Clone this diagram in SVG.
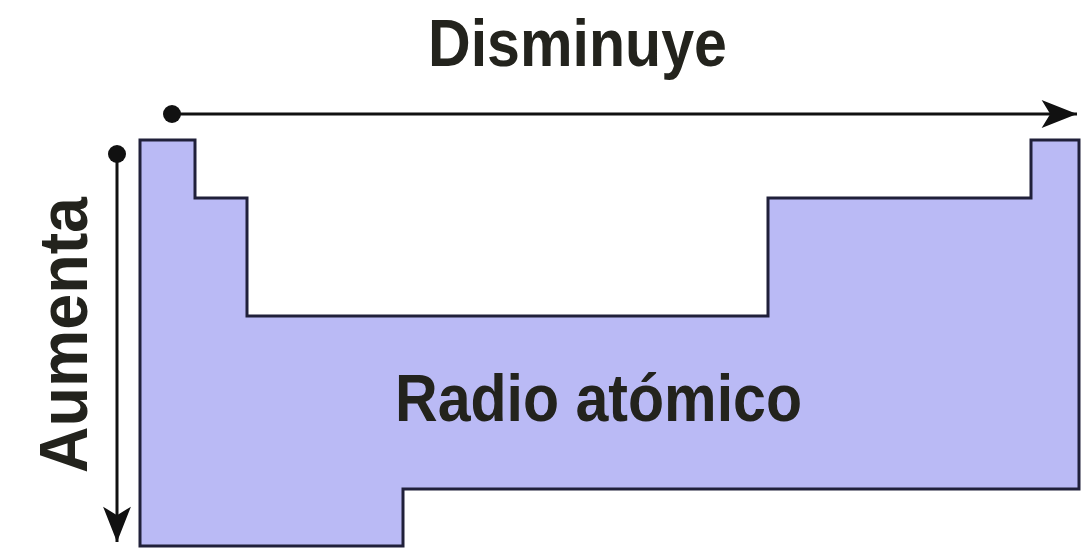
<svg xmlns="http://www.w3.org/2000/svg" width="1083" height="548" viewBox="0 0 1083 548">
<style>
.lbl{font-family:"Liberation Sans",Arial,sans-serif;font-weight:bold;fill:#23231d;}
.conn{stroke:#111;stroke-width:3;fill:none;}
</style>
<defs>
<marker id="arrow" markerUnits="userSpaceOnUse" markerWidth="40" markerHeight="30" viewBox="-33 -14 35 28" refX="0" refY="0" orient="auto">
<path d="M0,0 L-33,-13 L-25,0 L-33,13 Z" fill="#111"/>
</marker>
<marker id="dot" markerUnits="userSpaceOnUse" markerWidth="20" markerHeight="20" viewBox="-10 -10 20 20" refX="0" refY="0">
<circle cx="0" cy="0" r="9" fill="#111"/>
</marker>
</defs>
<rect width="1083" height="548" fill="#ffffff"/>
<g id="table">
<path d="M140,140 L195,140 L195,198 L247,198 L247,316 L768,316 L768,198 L1031,198 L1031,140 L1079,140 L1079,489 L403,489 L403,546 L140,546 Z" fill="#babaf5" stroke="#20203a" stroke-width="3" stroke-linejoin="miter"/>
</g>
<g id="connectors">
<line class="conn" x1="172" y1="114" x2="1077" y2="114" marker-start="url(#dot)" marker-end="url(#arrow)"/>
<line class="conn" x1="117" y1="154" x2="117" y2="542" marker-start="url(#dot)" marker-end="url(#arrow)"/>
</g>
<g id="label-disminuye">
<text class="lbl" x="428" y="66" font-size="66" textLength="299" lengthAdjust="spacingAndGlyphs">Disminuye</text>
</g>
<g id="label-aumenta">
<text class="lbl" transform="translate(87,473) rotate(-90)" x="0" y="0" font-size="69" textLength="276" lengthAdjust="spacingAndGlyphs">Aumenta</text>
</g>
<g id="label-radio">
<text class="lbl" x="395" y="421" font-size="67" textLength="407" lengthAdjust="spacingAndGlyphs">Radio atómico</text>
</g>
</svg>
